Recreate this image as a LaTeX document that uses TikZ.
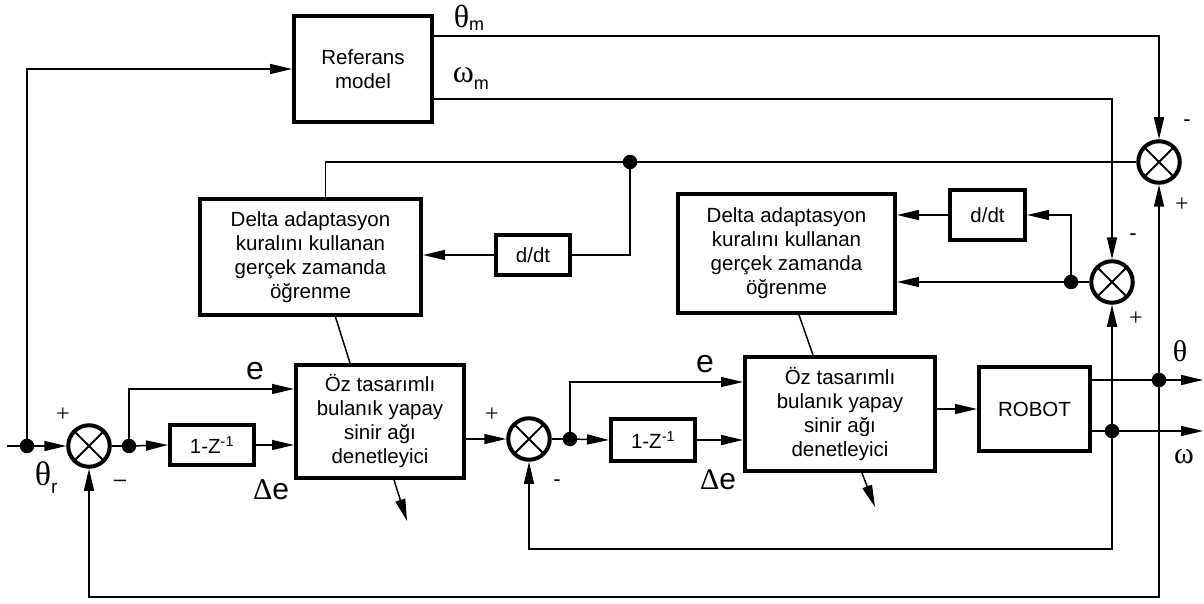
\documentclass[tikz,border=0pt]{standalone}
\usepackage{fontspec}
\setmainfont{Liberation Sans}
\newfontfamily\grk{Liberation Serif}
\usetikzlibrary{arrows.meta,calc}
\begin{document}
\begin{tikzpicture}[x=1pt,y=-1pt,line width=1.5pt,
  box/.style={draw,line width=4pt,inner sep=0pt,align=center,font=\fontsize{20.5}{24}\selectfont},
  sum/.style={draw,circle,line width=4pt,minimum size=41.5pt,inner sep=0pt,
    path picture={\draw[line width=1.8pt] (path picture bounding box.north west) -- (path picture bounding box.south east)
      (path picture bounding box.north east) -- (path picture bounding box.south west);}},
  dot/.style={circle,fill,inner sep=0pt,minimum size=14.5pt},
  arr/.style={-{Triangle[length=22pt,width=10pt]}},
  sgn/.style={inner sep=0pt,font=\fontsize{22}{22}\selectfont},
  pls/.style={inner sep=0pt,font=\grk\fontsize{24}{24}\selectfont},
  big/.style={inner sep=0pt,font=\fontsize{32}{32}\selectfont},
  gl/.style={inner sep=0pt,font=\grk\fontsize{30}{30}\selectfont},
]
\useasboundingbox (0,0) rectangle (1204,604);

% blocks
\node[box,minimum width=138pt,minimum height=106pt] (ref) at (363,69) {Referans\\model};
\node[box,minimum width=221pt,minimum height=116pt] (delL) at (310.5,257) {Delta adaptasyon\\kuralını kullanan\\gerçek zamanda\\öğrenme};
\node[box,minimum width=74pt,minimum height=40pt] (ddtL) at (533,255) {d/dt};
\node[box,minimum width=168pt,minimum height=113pt] (ozL) at (380,421.5) {Öz tasarımlı\\bulanık yapay\\sinir ağı\\denetleyici};
\node[box,minimum width=84pt,minimum height=40pt] (zL) at (212,445) {1-Z\textsuperscript{-1}};
\node[box,minimum width=217pt,minimum height=119pt] (delR) at (786.5,253.5) {Delta adaptasyon\\kuralını kullanan\\gerçek zamanda\\öğrenme};
\node[box,minimum width=75pt,minimum height=49pt] (ddtR) at (987.5,215) {d/dt};
\node[box,minimum width=190pt,minimum height=114pt] (ozR) at (840,414) {Öz tasarımlı\\bulanık yapay\\sinir ağı\\denetleyici};
\node[box,minimum width=84pt,minimum height=42pt] (zR) at (653,440) {1-Z\textsuperscript{-1}};
\node[box,minimum width=111pt,minimum height=84pt] (robot) at (1034.5,409) {ROBOT};

% summing junctions
\node[sum] (s1) at (89,446) {};
\node[sum] (s2) at (529,439) {};
\node[sum] (s3) at (1112,282) {};
\node[sum] (s4) at (1159,162) {};

% branch dots
\node[dot] (dIn) at (27,446) {};
\node[dot] (dE1) at (129,446) {};
\node[dot] (dTop) at (630,162) {};
\node[dot] (dE2) at (570,439) {};
\node[dot] (dS3) at (1071,282) {};
\node[dot] (dTh) at (1159,380) {};
\node[dot] (dOm) at (1112,431) {};

% free ends
\coordinate (in0) at (7,446);
\coordinate (thOut) at (1203,380);
\coordinate (omOut) at (1203,431);
\coordinate (oL) at (407,521);
\coordinate (oR) at (875,507);

% connectors
\draw (in0) -- (dIn.center);
\draw[arr] (dIn.center) -- (s1.west);
\draw[arr] (dIn.center) |- (ref.west);
\draw[arr] (ref.east |- 0,36) -| (s4.north);
\draw[arr] (ref.east |- 0,99) -| (s3.north);
\draw (s4.west) -- (dTop.center) -| ($(delL.north)+(15,0)$);
\draw (dTop.center) |- (ddtL.east);
\draw[arr] (ddtL.west) -- (ddtL.west -| delL.east);
\draw ($(delL.south)+(25,0)$) -- ($(ozL.north)+(-30,0)$);
\draw[arr] ($(ozL.south)+(14,0)$) -- (oL);
\draw (s1.east) -- (dE1.center);
\draw[arr] (dE1.center) -- (zL.west);
\draw[arr] (dE1.center) |- (ozL.west |- 0,389);
\draw[arr] (zL.east) -- (zL.east -| ozL.west);
\draw[arr] (ozL.east |- s2.west) -- (s2.west);
\draw (s2.east) -- (dE2.center);
\draw[arr] (dE2.center) -- (zR.west);
\draw[arr] (dE2.center) |- (ozR.west |- 0,382);
\draw[arr] (zR.east) -- (zR.east -| ozR.west);
\draw[arr] (ozR.east |- robot.west) -- (robot.west);
\draw (robot.east |- dTh) -- (dTh.center);
\draw[arr] (dTh.center) -- (thOut);
\draw (robot.east |- dOm) -- (dOm.center);
\draw[arr] (dOm.center) -- (omOut);
\draw[arr] (dTh.center) -- (s4.south);
\draw[arr] (dTh.center) -- (dTh.center |- 0,597) -| (s1.south);
\draw[arr] (dOm.center) -- (s3.south);
\draw[arr] (dOm.center) -- (dOm.center |- 0,549) -| (s2.south);
\draw (s3.west) -- (dS3.center);
\draw[arr] (dS3.center) -- (dS3.center -| delR.east);
\draw[arr] (dS3.center) |- (ddtR.east);
\draw[arr] (ddtR.west) -- (ddtR.west -| delR.east);
\draw ($(delR.south)+(12.5,0)$) -- ($(ozR.north)+(-27,0)$);
\draw[arr] ($(ozR.south)+(22,0)$) -- (oR);

% signal labels
\node[gl,anchor=base west,font=\grk\fontsize{32}{32}\selectfont] (lthm) at (453,28) {θ\raisebox{-3pt}{\rmfamily\fontsize{18}{18}\selectfont m}};
\node[gl,anchor=base west,font=\grk\fontsize{32}{32}\selectfont] (lomm) at (452,83) {ω\raisebox{-7pt}{\rmfamily\fontsize{18}{18}\selectfont m}};
\node[gl,anchor=base west,font=\grk\fontsize{34}{34}\selectfont] (lthr) at (34,485) {θ\raisebox{-8pt}{\rmfamily\fontsize{19}{19}\selectfont r}};
\node[gl] (lth) at (1180,351) {θ};
\node[gl] (lom) at (1184,457) {ω};
\node[big] (le1) at (255,371) {e};
\node[big,font=\fontsize{30}{30}\selectfont] (lde1) at (271,490) {{\grk Δ}e};
\node[big] (le2) at (705,364) {e};
\node[big,font=\fontsize{30}{30}\selectfont] (lde2) at (718,480) {{\grk Δ}e};

% signs
\node[pls] (p1) at (63,415) {+};
\node[sgn] (m1) at (120,483) {–};
\node[pls] (p2) at (492,415) {+};
\node[sgn] (m2) at (557,483) {-};
\node[sgn] (m3) at (1133,237) {-};
\node[pls] (p3) at (1136,319) {+};
\node[sgn] (m4) at (1187,123) {-};
\node[pls] (p4) at (1182,205) {+};
\end{tikzpicture}
\end{document}
